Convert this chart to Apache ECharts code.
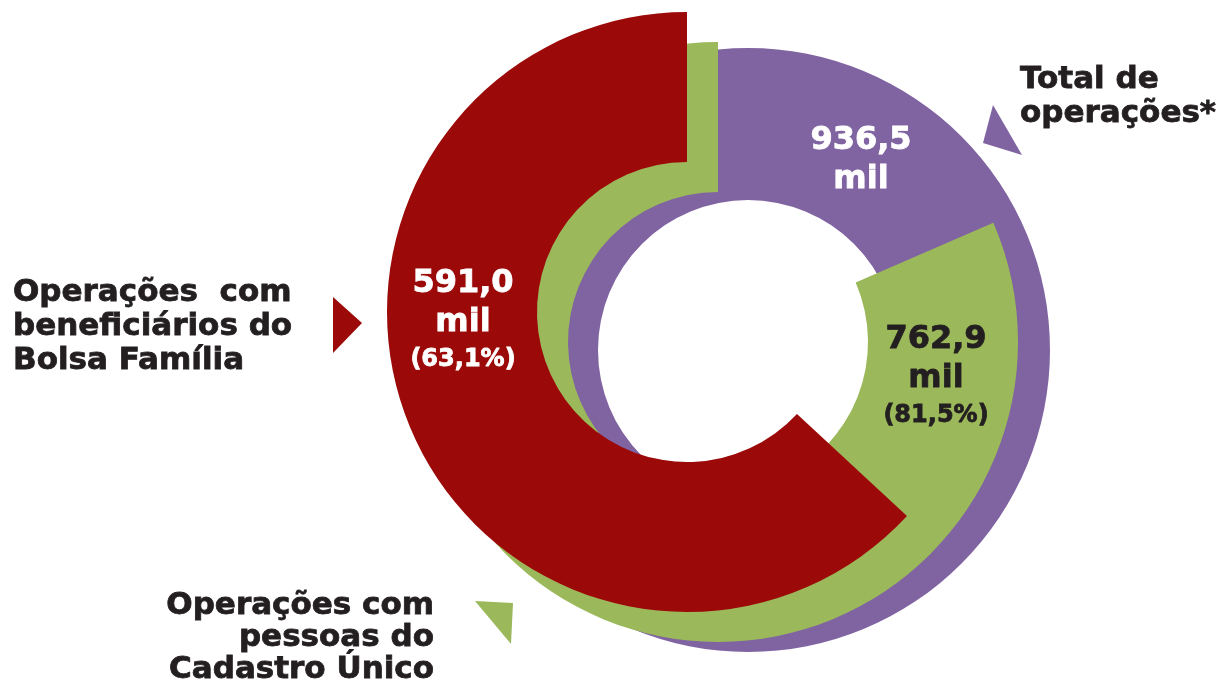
<!DOCTYPE html>
<html>
<head>
<meta charset="utf-8">
<script src="https://cdn.jsdelivr.net/npm/echarts@6/dist/echarts.min.js"></script>
<style>
  html, body { margin: 0; padding: 0; background: #fff; }
  #main { width: 1221px; height: 689px; }
</style>
</head>
<body>
<div id="main"></div>
<script>
// Totais em milhares de operações e participação no total
const categories = [
  'Total de\noperações*',
  'Operações com\npessoas do\nCadastro Único',
  'Operações  com\nbeneficiários do\nBolsa Família'
];
const valuesMil = [936.5, 762.9, 591.0];
const shares = [100, 81.5, 63.1];

const colors = ['#8064a2', '#9bb95a', '#9b0909'];
const labelColors = ['#ffffff', '#231f20', '#ffffff'];
const centers = [[748, 350], [718, 342], [687, 312]];
const labelPos = [[861, 160], [936, 377], [463, 321]];

const FONT = '"DejaVu Sans", "Liberation Sans", Arial, sans-serif';
const fmt = v => v.toFixed(1).replace('.', ',');

const series = categories.map((name, i) => {
  const heavy = { fontWeight: 'bold', fontFamily: FONT, color: labelColors[i], textBorderColor: labelColors[i], textBorderWidth: 0.8 };
  return {
    type: 'pie',
    silent: true,
    center: centers[i],
    radius: [150, i === 0 ? 302 : 300],
    startAngle: 90,
    clockwise: false,
    avoidLabelOverlap: false,
    itemStyle: { borderWidth: 0 },
    labelLine: { show: false },
    label: {
      show: true,
      position: 'inside',
      rotate: 0,
      color: labelColors[i],
      fontFamily: FONT,
      fontWeight: 'bold',
      align: 'center',
      formatter: () => {
        let s = '{v|' + fmt(valuesMil[i]) + '}\n{m|mil}';
        if (shares[i] < 100) s += '\n{p|(' + fmt(shares[i]) + '%)}';
        return s;
      },
      rich: {
        v: Object.assign({ fontSize: 32, lineHeight: 39 }, heavy),
        m: Object.assign({ fontSize: 32, lineHeight: 38 }, heavy),
        p: Object.assign({ fontSize: 24, lineHeight: 36 }, heavy)
      }
    },
    labelLayout: { x: labelPos[i][0], y: labelPos[i][1], align: 'center', verticalAlign: 'middle' },
    data: [
      { value: shares[i], name: name, itemStyle: { color: colors[i] } },
      { value: 100 - shares[i], name: 'resto', itemStyle: { color: 'rgba(0,0,0,0)' }, label: { show: false } }
    ]
  };
});

const textStyle = { font: 'bold 31px ' + FONT, fill: '#231f20', stroke: '#231f20', lineWidth: 0.8, verticalAlign: 'middle' };

const option = {
  animation: false,
  series: series,
  graphic: [
    { type: 'text', x: 1020, y: 97, style: Object.assign({ text: categories[0], align: 'left', lineHeight: 34 }, textStyle) },
    { type: 'text', x: 434, y: 638, style: Object.assign({ text: categories[1], align: 'right', lineHeight: 32 }, textStyle) },
    { type: 'text', x: 13, y: 327, style: Object.assign({ text: categories[2], align: 'left', lineHeight: 34 }, textStyle) },
    { type: 'polygon', shape: { points: [[993, 105], [983, 143], [1022, 155]] }, style: { fill: colors[0] } },
    { type: 'polygon', shape: { points: [[475, 601], [513, 603], [511, 644]] }, style: { fill: colors[1] } },
    { type: 'polygon', shape: { points: [[333, 297], [362, 323], [333, 353]] }, style: { fill: colors[2] } }
  ]
};

const chart = echarts.init(document.getElementById('main'));
chart.setOption(option);
</script>
</body>
</html>
